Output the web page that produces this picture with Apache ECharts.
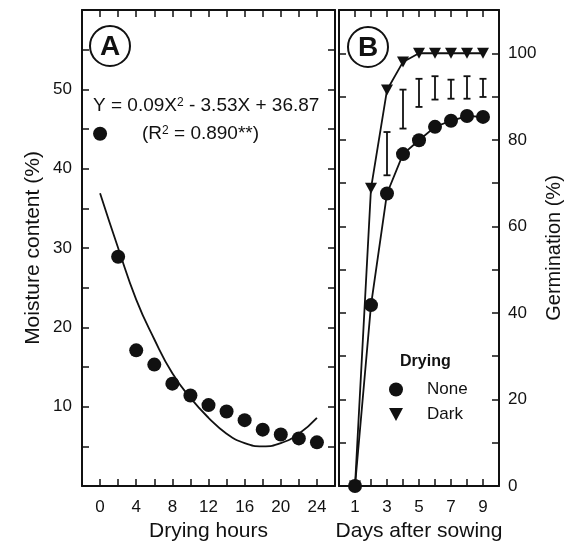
<!DOCTYPE html>
<html><head><meta charset="utf-8">
<script src="https://cdn.jsdelivr.net/npm/echarts@6/dist/echarts.min.js"></script>
<style>html,body{margin:0;padding:0;background:#fff}#c{width:570px;height:542px}</style>
</head><body><div id="c"></div>
<script>
// ---- Panel A data ----
const dryingHours = [0, 2, 4, 6, 8, 10, 12, 14, 16, 18, 20, 22, 24];
const moisture = [44.4, 28.9, 17.1, 15.3, 12.9, 11.4, 10.2, 9.4, 8.3, 7.1, 6.5, 6.0, 5.5];
const curveHours = [0, 2, 4, 6, 8, 10, 12, 14, 16, 18, 20, 22, 24];
const curveMoisture = [36.9, 30.0, 23.5, 18.5, 14.2, 11.1, 8.6, 6.6, 5.4, 5.0, 5.4, 6.6, 8.6];
const xTicksA = ['0', '4', '8', '12', '16', '20', '24'];
const yTicksA = ['10', '20', '30', '40', '50'];

// ---- Panel B data ----
const days = [1, 2, 3, 4, 5, 6, 7, 8, 9];
const germNone = [0, 41.8, 67.6, 76.7, 79.9, 83.0, 84.4, 85.5, 85.3];
const germDark = [0, 68.8, 91.5, 98.0, 100, 100, 100, 100, 100];
const lsdDays = [3, 4, 5, 6, 7, 8, 9];
const lsdLow = [71.8, 82.6, 87.6, 89.3, 89.5, 89.5, 89.9];
const lsdHigh = [81.8, 91.6, 94.1, 94.7, 93.9, 94.7, 94.1];
const xTicksB = ['1', '3', '5', '7', '9'];
const yTicksB = ['0', '20', '40', '60', '80', '100'];

const FONT = '"Liberation Sans", Arial, Helvetica, sans-serif';
const ink = '#111';
const triDown = 'path://M0,0L12,0L6,11Z';

const chart = echarts.init(document.getElementById('c'));

function baseAxis(extra) {
  return Object.assign({
    type: 'value',
    splitLine: { show: false },
    axisLine: { show: true, onZero: false, lineStyle: { color: ink, width: 2 } },
    axisTick: { show: true, inside: true, length: 7, lineStyle: { color: ink, width: 1.5 } },
    axisLabel: { show: false, color: ink, fontSize: 17, fontFamily: FONT },
    nameTextStyle: { color: ink, fontSize: 21, fontFamily: FONT }
  }, extra);
}
function labelsFrom(list, margin) {
  return {
    show: true, color: ink, fontSize: 17, fontFamily: FONT, margin: margin,
    formatter: v => (list.indexOf(String(v)) >= 0 ? String(v) : '')
  };
}

const option = {
  animation: false,
  backgroundColor: '#fff',
  grid: [
    { left: 82, top: 10, width: 253, height: 476, outerBoundsMode: 'none', containLabel: false },
    { left: 339, top: 10, width: 160, height: 476, outerBoundsMode: 'none', containLabel: false }
  ],
  xAxis: [
    baseAxis({ gridIndex: 0, position: 'bottom', min: -2, max: 26, interval: 2,
      axisLabel: labelsFrom(xTicksA, 13),
      name: 'Drying hours', nameLocation: 'middle', nameGap: 33 }),
    baseAxis({ gridIndex: 0, position: 'top', min: -2, max: 26, interval: 2 }),
    baseAxis({ gridIndex: 1, position: 'bottom', min: 0, max: 10, interval: 1,
      axisLabel: labelsFrom(xTicksB, 13),
      name: 'Days after sowing', nameLocation: 'middle', nameGap: 33 }),
    baseAxis({ gridIndex: 1, position: 'top', min: 0, max: 10, interval: 1 })
  ],
  yAxis: [
    baseAxis({ gridIndex: 0, position: 'left', min: 0, max: 60, interval: 5,
      axisLabel: labelsFrom(yTicksA, 10),
      name: 'Moisture content (%)', nameLocation: 'middle', nameGap: 38 }),
    baseAxis({ gridIndex: 0, position: 'right', min: 0, max: 60, interval: 5 }),
    baseAxis({ gridIndex: 1, position: 'left', min: 0, max: 110, interval: 10 }),
    baseAxis({ gridIndex: 1, position: 'right', min: 0, max: 110, interval: 10,
      axisLabel: labelsFrom(yTicksB, 9),
      name: 'Germination (%)', nameLocation: 'middle', nameGap: 45,
      nameTextStyle: { color: ink, fontSize: 20, fontFamily: FONT } })
  ],
  legend: {
    show: true, orient: 'vertical', left: 389, top: 381, padding: 0,
    itemWidth: 14, itemHeight: 14, itemGap: 8,
    textStyle: { color: ink, fontSize: 17, fontFamily: FONT, padding: [0, 0, 0, 19] },
    data: [{ name: 'None', icon: 'circle' }, { name: 'Dark', icon: triDown }]
  },
  series: [
    { name: 'fit', type: 'line', xAxisIndex: 0, yAxisIndex: 0, smooth: true,
      showSymbol: false, symbol: 'none',
      lineStyle: { color: ink, width: 1.8 },
      data: curveHours.map((h, i) => [h, curveMoisture[i]]) },
    { name: 'moisture', type: 'scatter', xAxisIndex: 0, yAxisIndex: 0,
      symbol: 'circle', symbolSize: 14, itemStyle: { color: ink, opacity: 1 },
      data: dryingHours.map((h, i) => [h, moisture[i]]) },
    { name: 'LSD', type: 'custom', xAxisIndex: 2, yAxisIndex: 2,
      encode: { x: 0, y: [1, 2] },
      data: lsdDays.map((d, i) => [d, lsdLow[i], lsdHigh[i]]),
      renderItem: function (params, api) {
        const x = api.value(0);
        const lo = api.coord([x, api.value(1)]);
        const hi = api.coord([x, api.value(2)]);
        const w = 3.5;
        const st = { stroke: ink, lineWidth: 1.8 };
        return { type: 'group', children: [
          { type: 'line', shape: { x1: lo[0], y1: lo[1], x2: hi[0], y2: hi[1] }, style: st },
          { type: 'line', shape: { x1: lo[0] - w, y1: lo[1], x2: lo[0] + w, y2: lo[1] }, style: st },
          { type: 'line', shape: { x1: hi[0] - w, y1: hi[1], x2: hi[0] + w, y2: hi[1] }, style: st }
        ] };
      } },
    { name: 'Dark', type: 'line', xAxisIndex: 2, yAxisIndex: 2,
      symbol: triDown, symbolSize: [12, 11], itemStyle: { color: ink, opacity: 1 },
      lineStyle: { color: ink, width: 1.8 },
      data: days.map((d, i) => [d, germDark[i]]) },
    { name: 'None', type: 'line', xAxisIndex: 2, yAxisIndex: 2,
      symbol: 'circle', symbolSize: 14, itemStyle: { color: ink, opacity: 1 },
      lineStyle: { color: ink, width: 1.8 },
      data: days.map((d, i) => [d, germNone[i]]) }
  ],
  graphic: [
    { type: 'circle', shape: { cx: 110, cy: 46, r: 20 }, style: { fill: '#fff', stroke: ink, lineWidth: 2 }, z: 100 },
    { type: 'text', x: 110, y: 47, z: 101, style: { text: 'A', fill: ink, font: 'bold 28px ' + FONT, textAlign: 'center', textVerticalAlign: 'middle' } },
    { type: 'circle', shape: { cx: 368, cy: 47, r: 20 }, style: { fill: '#fff', stroke: ink, lineWidth: 2 }, z: 100 },
    { type: 'text', x: 368, y: 48, z: 101, style: { text: 'B', fill: ink, font: 'bold 28px ' + FONT, textAlign: 'center', textVerticalAlign: 'middle' } },
    { type: 'text', x: 93, y: 106, z: 101, style: {
        text: 'Y = 0.09X{s|2} - 3.53X + 36.87', fill: ink, font: '19px ' + FONT,
        textVerticalAlign: 'middle',
        rich: { s: { fontSize: 12, fontFamily: FONT, fill: ink, verticalAlign: 'top', padding: [0, 0, 0, 0] } } } },
    { type: 'text', x: 142, y: 134, z: 101, style: {
        text: '(R{s|2} = 0.890**)', fill: ink, font: '19px ' + FONT,
        textVerticalAlign: 'middle',
        rich: { s: { fontSize: 12, fontFamily: FONT, fill: ink, verticalAlign: 'top' } } } },
    { type: 'text', x: 400, y: 362, z: 101, style: { text: 'Drying', fill: ink, font: 'bold 16px ' + FONT, textVerticalAlign: 'middle' } }
  ]
};
chart.setOption(option);
</script>
</body></html>
